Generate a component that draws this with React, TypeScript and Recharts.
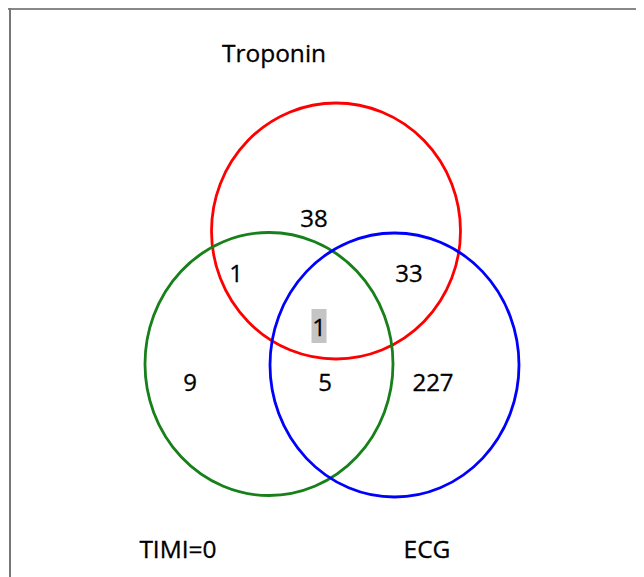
import { ScatterChart, Scatter, XAxis, YAxis, ReferenceLine } from 'recharts';

// set names and region counts of the Venn diagram
const setNames = ['Troponin', 'TIMI=0', 'ECG'];
const regionNames = ['Troponin only', 'Troponin & TIMI=0', 'Troponin & ECG', 'All three', 'TIMI=0 only', 'TIMI=0 & ECG', 'ECG only'];
const regionCounts = [38, 1, 33, 1, 9, 5, 227];
const highlighted = ['All three'];

// layout, in axis units (1 unit = 1 px of the page)
const circleLayout = [
  { x: 336, y: 231, rx: 124.5, ry: 128, color: '#ff0000' },
  { x: 269, y: 364, rx: 124, ry: 131.5, color: '#17801a' },
  { x: 394.5, y: 365, rx: 124.5, ry: 132, color: '#0000ff' },
];
const setLabelLayout = [
  { x: 274, y: 52 },
  { x: 178, y: 548 },
  { x: 427, y: 548 },
];
const regionLayout = [
  { x: 314, y: 217 },
  { x: 236, y: 272 },
  { x: 409, y: 272 },
  { x: 319, y: 326 },
  { x: 190, y: 381 },
  { x: 325, y: 381 },
  { x: 433, y: 381 },
];

const FONT = '"Open Sans", "Liberation Sans", sans-serif';

const circles = setNames.map((name, i) => ({ name, ...circleLayout[i] }));
const setLabels = setNames.map((name, i) => ({ name, ...setLabelLayout[i] }));
const regions = regionNames.map((name, i) => ({
  name,
  count: regionCounts[i],
  highlight: highlighted.includes(name),
  ...regionLayout[i],
}));

const EllipseShape = (props: any) => {
  const { cx, cy, payload } = props;
  return (
    <ellipse cx={cx} cy={cy} rx={payload.rx} ry={payload.ry}
      fill="none" stroke={payload.color} strokeWidth={2.8} />
  );
};

const SetLabelShape = (props: any) => {
  const { cx, cy, payload } = props;
  return (
    <text x={cx} y={cy} textAnchor="middle" dominantBaseline="central"
      fontSize={24.5} fontFamily={FONT} fill="#000" stroke="#000" strokeWidth={0.3}>
      {payload.name}
    </text>
  );
};

const RegionShape = (props: any) => {
  const { cx, cy, payload } = props;
  return (
    <g>
      {payload.highlight && (
        <rect x={cx - 7.5} y={cy - 17} width={15} height={34} fill="#c4c4c4" />
      )}
      <text x={cx} y={cy} textAnchor="middle" dominantBaseline="central"
        fontSize={24} fontFamily={FONT} fill="#000" stroke="#000" strokeWidth={0.3}>
        {payload.count}
      </text>
    </g>
  );
};

export default function App() {
  return (
    <ScatterChart width={636} height={569} margin={{ top: 0, right: 0, bottom: 0, left: 0 }}
      style={{ background: '#fff' }}>
      <XAxis type="number" dataKey="x" domain={[8, 644]} hide />
      <YAxis type="number" dataKey="y" domain={[8, 577]} reversed hide />
      <ReferenceLine y={9} stroke="#888" strokeWidth={2} />
      <ReferenceLine x={10} stroke="#777" strokeWidth={2} />
      <Scatter data={circles} shape={EllipseShape} isAnimationActive={false} />
      <Scatter data={regions} shape={RegionShape} isAnimationActive={false} />
      <Scatter data={setLabels} shape={SetLabelShape} isAnimationActive={false} />
    </ScatterChart>
  );
}
